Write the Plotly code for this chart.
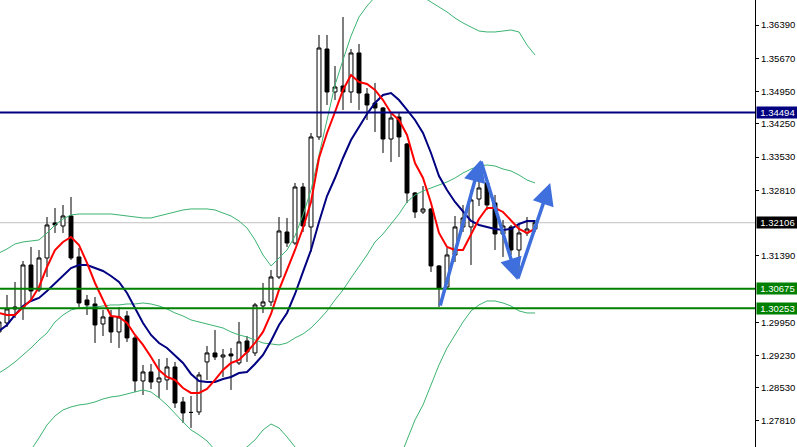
import plotly.graph_objects as go

# bar index (one per candle)
bars = list(range(-1, 67))

opens = [1.29739, 1.29934, 1.30237, 1.30280, 1.31190, 1.30649, 1.31342, 1.32100, 1.32035, 1.32252,
         1.31364, 1.30432, 1.30345, 1.29912, 1.30064, 1.29739, 1.30085, 1.29609, 1.28677, 1.28872,
         1.28655, 1.28699, 1.28980, 1.28222, 1.27994, 1.28005, 1.29089, 1.29284, 1.29197, 1.29262,
         1.29067, 1.29544, 1.29284, 1.30302, 1.30389, 1.30930, 1.31905, 1.31667, 1.32880, 1.32014,
         1.33964, 1.35870, 1.34939, 1.35069, 1.34939, 1.35784, 1.34895, 1.34700, 1.34592, 1.33920,
         1.34397, 1.33812, 1.32750, 1.32339, 1.32404, 1.31169, 1.30714, 1.31407, 1.32014, 1.32014,
         1.32620, 1.32967, 1.32534, 1.31862, 1.32014, 1.31515, 1.31884, 1.31970]
highs = [1.30042, 1.30540, 1.30822, 1.31277, 1.31580, 1.31515, 1.32230, 1.32425, 1.32490, 1.32664,
         1.31559, 1.30540, 1.30497, 1.30215, 1.30215, 1.30280, 1.30194, 1.29652, 1.29024, 1.29045,
         1.29154, 1.29175, 1.29089, 1.28330, 1.28352, 1.28872, 1.29435, 1.29782, 1.29370, 1.29392,
         1.29955, 1.29652, 1.30367, 1.30800, 1.31082, 1.32230, 1.32209, 1.32967, 1.32967, 1.34050,
         1.36174, 1.36174, 1.35502, 1.36564, 1.35870, 1.35979, 1.35025, 1.35134, 1.34614, 1.34505,
         1.34484, 1.33834, 1.32772, 1.32902, 1.32425, 1.31190, 1.31559, 1.32252, 1.32490, 1.32815,
         1.33162, 1.33075, 1.32707, 1.32165, 1.32057, 1.32057, 1.32230, 1.32165]
lows = [1.29652, 1.29847, 1.30042, 1.29999, 1.30432, 1.30605, 1.30930, 1.31884, 1.31884, 1.31299,
        1.30280, 1.30107, 1.29500, 1.29652, 1.29500, 1.29392, 1.29522, 1.28439, 1.28374, 1.28504,
        1.28309, 1.28482, 1.28092, 1.27767, 1.27659, 1.27940, 1.28699, 1.29132, 1.28764, 1.28482,
        1.29024, 1.29089, 1.29219, 1.30150, 1.30302, 1.30887, 1.31580, 1.31624, 1.31905, 1.31472,
        1.33899, 1.34657, 1.34765, 1.34549, 1.34700, 1.34549, 1.34332, 1.34072, 1.33617, 1.33422,
        1.33530, 1.32534, 1.32209, 1.32295, 1.31039, 1.30280, 1.30692, 1.31255, 1.31905, 1.31190,
        1.32469, 1.32382, 1.31515, 1.31364, 1.31407, 1.30909, 1.31819, 1.31905]
closes = [1.29955, 1.30237, 1.30280, 1.31190, 1.30627, 1.31342, 1.32057, 1.32057, 1.32252, 1.31342,
          1.30367, 1.30324, 1.29890, 1.30064, 1.29739, 1.30064, 1.29609, 1.28677, 1.28872, 1.28655,
          1.28742, 1.28980, 1.28200, 1.27984, 1.27995, 1.28807, 1.29284, 1.29197, 1.29240, 1.29219,
          1.29522, 1.29305, 1.30324, 1.30389, 1.30930, 1.31927, 1.31667, 1.32880, 1.32035, 1.33964,
          1.35892, 1.34939, 1.35047, 1.34939, 1.35784, 1.34917, 1.34657, 1.34592, 1.33920, 1.34375,
          1.33964, 1.32750, 1.32339, 1.32404, 1.31169, 1.30692, 1.31407, 1.32014, 1.32209, 1.32599,
          1.32859, 1.32490, 1.31862, 1.32035, 1.31515, 1.31884, 1.31970, 1.32106]

ma_fast = [1.30150, 1.30107, 1.30107, 1.30259, 1.30432, 1.30714, 1.31147, 1.31515, 1.31689, 1.31797,
           1.31624, 1.31234, 1.30800, 1.30432, 1.30085, 1.30064, 1.29934, 1.29674, 1.29457, 1.29197,
           1.28915, 1.28764, 1.28699, 1.28525, 1.28417, 1.28417, 1.28504, 1.28699, 1.28915, 1.29067,
           1.29132, 1.29305, 1.29500, 1.29739, 1.30129, 1.30649, 1.31082, 1.31515, 1.31992, 1.32555,
           1.33509, 1.34050, 1.34505, 1.34982, 1.35307, 1.35155, 1.35112, 1.34982, 1.34765, 1.34484,
           1.34332, 1.34007, 1.33400, 1.33075, 1.32534, 1.31884, 1.31580, 1.31515, 1.31515, 1.31840,
           1.32187, 1.32425, 1.32425, 1.32339, 1.32165, 1.31970, 1.31884, 1.31970]
ma_slow = [1.29760, 1.29890, 1.30107, 1.30302, 1.30410, 1.30475, 1.30627, 1.30800, 1.30974, 1.31125,
           1.31190, 1.31190, 1.31125, 1.31060, 1.30952, 1.30822, 1.30584, 1.30259, 1.29934, 1.29674,
           1.29500, 1.29392, 1.29240, 1.29067, 1.28829, 1.28677, 1.28655, 1.28655, 1.28720, 1.28764,
           1.28850, 1.28872, 1.29045, 1.29240, 1.29544, 1.29890, 1.30150, 1.30562, 1.31039, 1.31515,
           1.32122, 1.32685, 1.33075, 1.33509, 1.33899, 1.34180, 1.34462, 1.34700, 1.34874, 1.34917,
           1.34765, 1.34549, 1.34332, 1.34050, 1.33617, 1.33119, 1.32815, 1.32555, 1.32339, 1.32144,
           1.32057, 1.32014, 1.31970, 1.31949, 1.31970, 1.32079, 1.32144, 1.32144]
bb_upper = [1.31450, 1.31537, 1.31645, 1.31689, 1.31710, 1.31732, 1.31884, 1.32057, 1.32187, 1.32274,
            1.32295, 1.32295, 1.32295, 1.32295, 1.32295, 1.32274, 1.32252, 1.32230, 1.32209, 1.32209,
            1.32252, 1.32295, 1.32339, 1.32382, 1.32404, 1.32404, 1.32404, 1.32382, 1.32317, 1.32252,
            1.32144, 1.31992, 1.31732, 1.31407, 1.31169, 1.31342, 1.31515, 1.31819, 1.32274, 1.32815,
            1.33574, 1.34375, 1.35090, 1.35632, 1.36152, 1.36564, 1.36802, 1.36997, 1.37149, 1.37214,
            1.37235, 1.37192, 1.37105, 1.36997, 1.36889, 1.36780, 1.36672, 1.36542, 1.36434, 1.36347,
            1.36260, 1.36239, 1.36239, 1.36260, 1.36282, 1.36239, 1.35957, 1.35740]
bb_middle = [1.28850, 1.28959, 1.29089, 1.29240, 1.29392, 1.29565, 1.29717, 1.29955, 1.30107, 1.30215,
             1.30259, 1.30280, 1.30280, 1.30302, 1.30324, 1.30324, 1.30345, 1.30345, 1.30367, 1.30345,
             1.30302, 1.30237, 1.30150, 1.30085, 1.29999, 1.29955, 1.29912, 1.29869, 1.29825, 1.29739,
             1.29674, 1.29630, 1.29565, 1.29500, 1.29479, 1.29457, 1.29500, 1.29609, 1.29695, 1.29825,
             1.29999, 1.30194, 1.30432, 1.30649, 1.30909, 1.31147, 1.31407, 1.31689, 1.31862, 1.32079,
             1.32295, 1.32555, 1.32707, 1.32794, 1.32859, 1.32924, 1.32989, 1.33075, 1.33184, 1.33270,
             1.33335, 1.33357, 1.33335, 1.33270, 1.33227, 1.33140, 1.33032, 1.32967]
bb_lower = [1.25665, 1.26099, 1.26489, 1.26857, 1.27182, 1.27442, 1.27724, 1.27919, 1.28049, 1.28114,
            1.28157, 1.28179, 1.28222, 1.28287, 1.28330, 1.28352, 1.28395, 1.28439, 1.28482, 1.28439,
            1.28309, 1.28157, 1.27962, 1.27789, 1.27615, 1.27507, 1.27377, 1.27182, 1.27074, 1.27074,
            1.27139, 1.27247, 1.27399, 1.27615, 1.27745, 1.27659, 1.27464, 1.27247, 1.26965, 1.26640,
            1.26315, 1.25990, 1.25774, 1.25665, 1.25622, 1.25665, 1.25774, 1.25990, 1.26207, 1.26532,
            1.26965, 1.27399, 1.27832, 1.28157, 1.28590, 1.29024, 1.29392, 1.29674, 1.29955, 1.30194,
            1.30324, 1.30410, 1.30410, 1.30367, 1.30302, 1.30194, 1.30150, 1.30150]

resistance_level = 1.34494
support_levels = [1.30675, 1.30253]
bid_price = 1.32106

arrow_x = [54.1, 59.2, 63.8, 67.9]
arrow_y = [1.30280, 1.33465, 1.30865, 1.32967]

tick_vals = [1.36390, 1.35670, 1.34950, 1.34250, 1.33530, 1.32810, 1.31390,
             1.29950, 1.29230, 1.28530, 1.27810]
tick_text = ["%.5f" % v for v in tick_vals]

BAND = "#3CB371"
NAVY = "#000080"
GREEN = "#008000"
FONT = "Liberation Sans"

fig = go.Figure()
for band in (bb_upper, bb_middle, bb_lower):
    fig.add_trace(go.Scatter(x=bars, y=band, mode="lines",
                             line=dict(color=BAND, width=1), hoverinfo="skip"))

fig.add_trace(go.Candlestick(
    x=bars, open=opens, high=highs, low=lows, close=closes,
    increasing=dict(line=dict(color="black", width=1), fillcolor="white"),
    decreasing=dict(line=dict(color="black", width=1), fillcolor="black"),
    whiskerwidth=0, hoverinfo="skip"))

fig.add_trace(go.Scatter(x=bars, y=ma_slow, mode="lines",
                         line=dict(color=NAVY, width=2), hoverinfo="skip"))
fig.add_trace(go.Scatter(x=bars, y=ma_fast, mode="lines",
                         line=dict(color="#FF0000", width=2), hoverinfo="skip"))

shapes = [
    dict(type="line", xref="paper", x0=0, x1=1, yref="y", y0=bid_price, y1=bid_price,
         line=dict(color="#C0C0C0", width=1), layer="below"),
    dict(type="line", xref="paper", x0=0, x1=1, yref="y", y0=resistance_level, y1=resistance_level,
         line=dict(color=NAVY, width=2)),
]
for lv in support_levels:
    shapes.append(dict(type="line", xref="paper", x0=0, x1=1, yref="y", y0=lv, y1=lv,
                       line=dict(color=GREEN, width=2)))

annotations = []
for lv, bg in [(resistance_level, NAVY), (support_levels[0], GREEN),
               (support_levels[1], GREEN), (bid_price, "black")]:
    annotations.append(dict(xref="paper", x=1, xanchor="left", yref="y", y=lv, yanchor="middle",
                            text="%.5f" % lv, showarrow=False, bgcolor=bg, borderpad=0,
                            width=41, height=11, xshift=1,
                            font=dict(family=FONT, size=9.5, color="white")))

ARROW = "#3F6FDC"
for i in range(len(arrow_x) - 1):
    annotations.append(dict(x=arrow_x[i + 1], y=arrow_y[i + 1], xref="x", yref="y",
                            ax=arrow_x[i], ay=arrow_y[i], axref="x", ayref="y",
                            showarrow=True, arrowhead=2, arrowsize=1.25, arrowwidth=3.5,
                            arrowcolor=ARROW, text=""))

fig.update_layout(
    width=797, height=447,
    margin=dict(l=0, r=42, t=0, b=0, pad=0, autoexpand=False),
    paper_bgcolor="white", plot_bgcolor="white",
    showlegend=False, hovermode=False,
    shapes=shapes, annotations=annotations,
    xaxis=dict(range=[-0.875, 93.5], visible=False, rangeslider=dict(visible=False),
               showgrid=False, zeroline=False, automargin=False),
    yaxis=dict(range=[1.27246, 1.36932], side="right", showgrid=False, zeroline=False,
               automargin=False,
               showline=True, linecolor="black", linewidth=1,
               ticks="outside", ticklen=3, tickcolor="black",
               tickvals=tick_vals, ticktext=tick_text,
               tickfont=dict(family=FONT, size=9.5, color="black")),
)

fig.write_html("out.html", config={"displayModeBar": False, "staticPlot": True},
               post_script="document.body.style.margin='0';document.body.style.overflow='hidden';")
